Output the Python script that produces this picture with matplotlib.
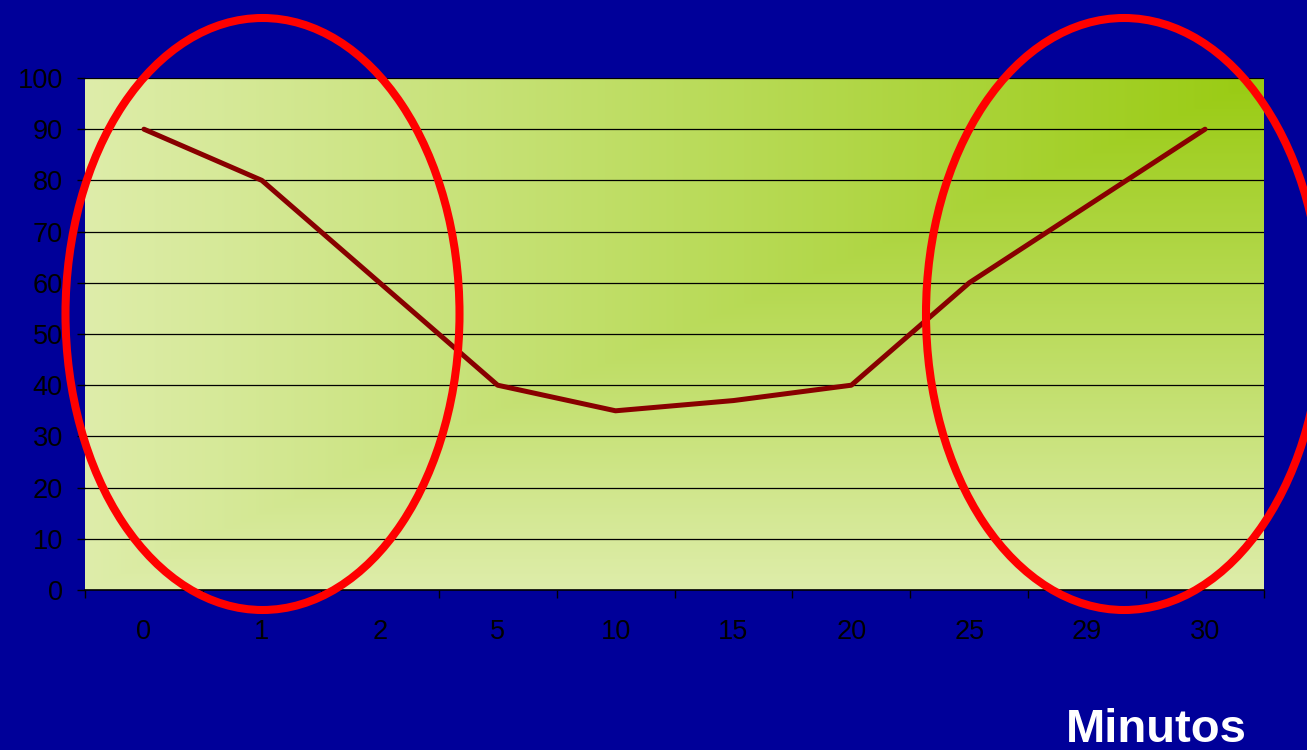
import numpy as np
import matplotlib
matplotlib.use("Agg")
import matplotlib.pyplot as plt
from matplotlib.patches import Ellipse
from matplotlib.colors import to_rgb

categories = ["0", "1", "2", "5", "10", "15", "20", "25", "29", "30"]
values = [90, 80, 60, 40, 35, 37, 40, 60, 75, 90]
y_ticks = [0, 10, 20, 30, 40, 50, 60, 70, 80, 90, 100]
x_title = "Minutos"

BG = "#000099"
PALE = "#DEEDAA"
DARK = "#99CB12"
LINE = "#880000"

W, H, DPI = 1307, 750, 100
fig = plt.figure(figsize=(W / DPI, H / DPI), dpi=DPI, facecolor=BG)
plt.rcParams['font.family'] = ['Liberation Sans', 'DejaVu Sans']

L, R, T, B = 85, 1264, 78, 590
ax = fig.add_axes([L / W, 1 - B / H, (R - L) / W, (B - T) / H])
ax.set_facecolor(PALE)

n = len(categories)
x = np.arange(n)

# corner gradient background (darkest top-right)
gx = np.linspace(0, 1, 600)
gy = np.linspace(0, 1, 300)
GX, GY = np.meshgrid(gx, gy)
t = np.maximum(1 - GX, GY)  # row 0 = top
c0 = np.array(to_rgb(DARK))
c1 = np.array(to_rgb(PALE))
img = c0[None, None, :] * (1 - t[..., None]) + c1[None, None, :] * t[..., None]
ax.imshow(img, extent=(-0.5, n - 0.5, 0, 100), aspect="auto", zorder=0, origin="upper")
ax.set_xlim(-0.5, n - 0.5)
ax.set_ylim(0, 100)

for yv in y_ticks[1:]:
    ax.axhline(yv, color="black", lw=0.9, zorder=1)

ax.plot(x, values, color=LINE, lw=3.6, zorder=3, solid_capstyle="round", solid_joinstyle="round")

ax.set_yticks(y_ticks)
ax.set_yticklabels([str(v) for v in y_ticks], fontsize=19.5, color="black")
ax.set_xticks(x)
ax.set_xticklabels(categories, fontsize=19.5, color="black")
ax.set_xticks(np.arange(n + 1) - 0.5, minor=True)
ax.tick_params(axis="x", which="major", length=0, pad=21)
ax.tick_params(axis="x", which="minor", length=6, width=1, color="black", direction="out")
ax.tick_params(axis="y", which="major", length=6, width=1, color="black", direction="out", pad=10)

for s in ["top", "right", "left"]:
    ax.spines[s].set_visible(False)
ax.spines["bottom"].set_color("black")
ax.spines["bottom"].set_linewidth(1.2)

# overlay in pixel coordinates for ellipses and title
ov = fig.add_axes([0, 0, 1, 1], facecolor="none")
ov.set_xlim(0, W)
ov.set_ylim(H, 0)
ov.axis("off")
ov.add_patch(Ellipse((262.5, 314), 394, 592, fill=False, edgecolor="#FF0000", lw=5.8, zorder=5))
ov.add_patch(Ellipse((1124, 314), 396, 592, fill=False, edgecolor="#FF0000", lw=5.8, zorder=5))
ov.text(1156, 742, x_title, color="white", fontsize=34, fontweight="bold",
        ha="center", va="baseline")

fig.savefig("out.png", dpi=DPI, facecolor=BG)
